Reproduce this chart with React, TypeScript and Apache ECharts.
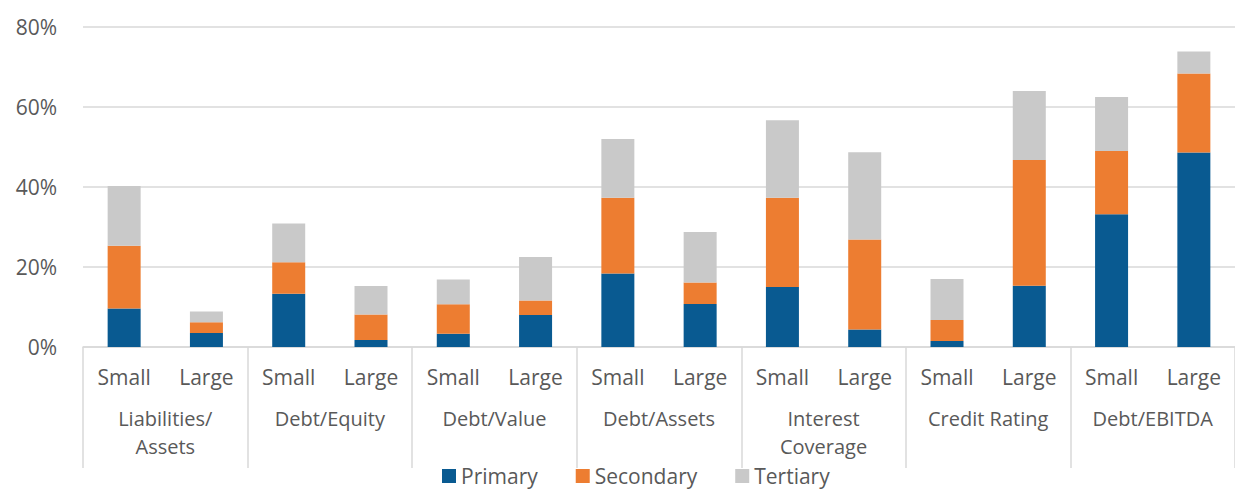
import React, { useEffect, useRef } from "react";
import * as echarts from "echarts";

const groups = [
  "Liabilities/\nAssets",
  "Debt/Equity",
  "Debt/Value",
  "Debt/Assets",
  "Interest\nCoverage",
  "Credit Rating",
  "Debt/EBITDA",
];
const sizes = ["Small", "Large", "Small", "Large", "Small", "Large", "Small", "Large", "Small", "Large", "Small", "Large", "Small", "Large"];

const primary = [9.6, 3.5, 13.3, 1.75, 3.3, 8.0, 18.4, 10.75, 15.0, 4.4, 1.5, 15.3, 33.2, 48.6];
const secondary = [15.7, 2.7, 7.9, 6.35, 7.4, 3.6, 18.9, 5.35, 22.3, 22.5, 5.25, 31.45, 15.8, 19.8];
const tertiary = [14.95, 2.7, 9.7, 7.15, 6.2, 10.9, 14.7, 12.65, 19.4, 21.8, 10.25, 17.25, 13.5, 5.5];

const yTicks = { min: 0, max: 80, interval: 20 };

const FONT = "'Open Sans', 'Noto Sans', sans-serif";
const TEXT = "#595959";
const GRID = "#d9d9d9";

export default function App() {
  const ref = useRef<HTMLDivElement>(null);
  useEffect(() => {
    if (!ref.current) return;
    const chart = echarts.init(ref.current, undefined, { renderer: "svg" });
    const bar = (name: string, data: number[], color: string) => ({
      name,
      type: "bar",
      stack: "total",
      data,
      barWidth: 33,
      xAxisIndex: 0,
      itemStyle: { color },
    });
    chart.setOption({
      animation: false,
      textStyle: { fontFamily: FONT },
      grid: { left: 83, right: -3, top: 27, bottom: 143 },
      legend: {
        left: 437,
        top: 459,
        icon: "rect",
        itemWidth: 14,
        itemHeight: 14,
        itemGap: 38,
        textStyle: { fontFamily: FONT, fontSize: 21, color: TEXT, lineHeight: 24 },
        data: ["Primary", "Secondary", "Tertiary"],
      },
      xAxis: [
        {
          type: "category",
          data: sizes,
          position: "bottom",
          axisLine: { show: true, lineStyle: { color: GRID, width: 1.5 } },
          axisTick: { show: false },
          axisLabel: {
            interval: 0,
            margin: 15,
            color: TEXT,
            fontFamily: FONT,
            fontSize: 21,
            lineHeight: 29,
          },
        },
        {
          type: "category",
          data: groups,
          position: "bottom",
          offset: 0,
          axisLine: { show: false },
          axisTick: {
            show: true,
            length: 121,
            interval: 0,
            lineStyle: { color: GRID, width: 1.5 },
          },
          axisLabel: {
            interval: 0,
            margin: 58,
            color: TEXT,
            fontFamily: FONT,
            fontSize: 20,
            lineHeight: 27.5,
          },
        },
      ],
      yAxis: {
        type: "value",
        min: yTicks.min,
        max: yTicks.max,
        interval: yTicks.interval,
        axisLine: { show: false },
        axisTick: { show: false },
        splitLine: { lineStyle: { color: GRID, width: 1.5 } },
        axisLabel: {
          formatter: "{value}%",
          margin: 26,
          color: TEXT,
          fontFamily: FONT,
          fontSize: 21,
        },
      },
      series: [
        bar("Primary", primary, "#095a91"),
        bar("Secondary", secondary, "#ed7d31"),
        bar("Tertiary", tertiary, "#c9c9c9"),
      ],
    });
    return () => chart.dispose();
  }, []);
  return (
    <div
      ref={ref}
      style={{ position: "fixed", left: 0, top: 0, width: 1235, height: 490, background: "#fff" }}
    />
  );
}
